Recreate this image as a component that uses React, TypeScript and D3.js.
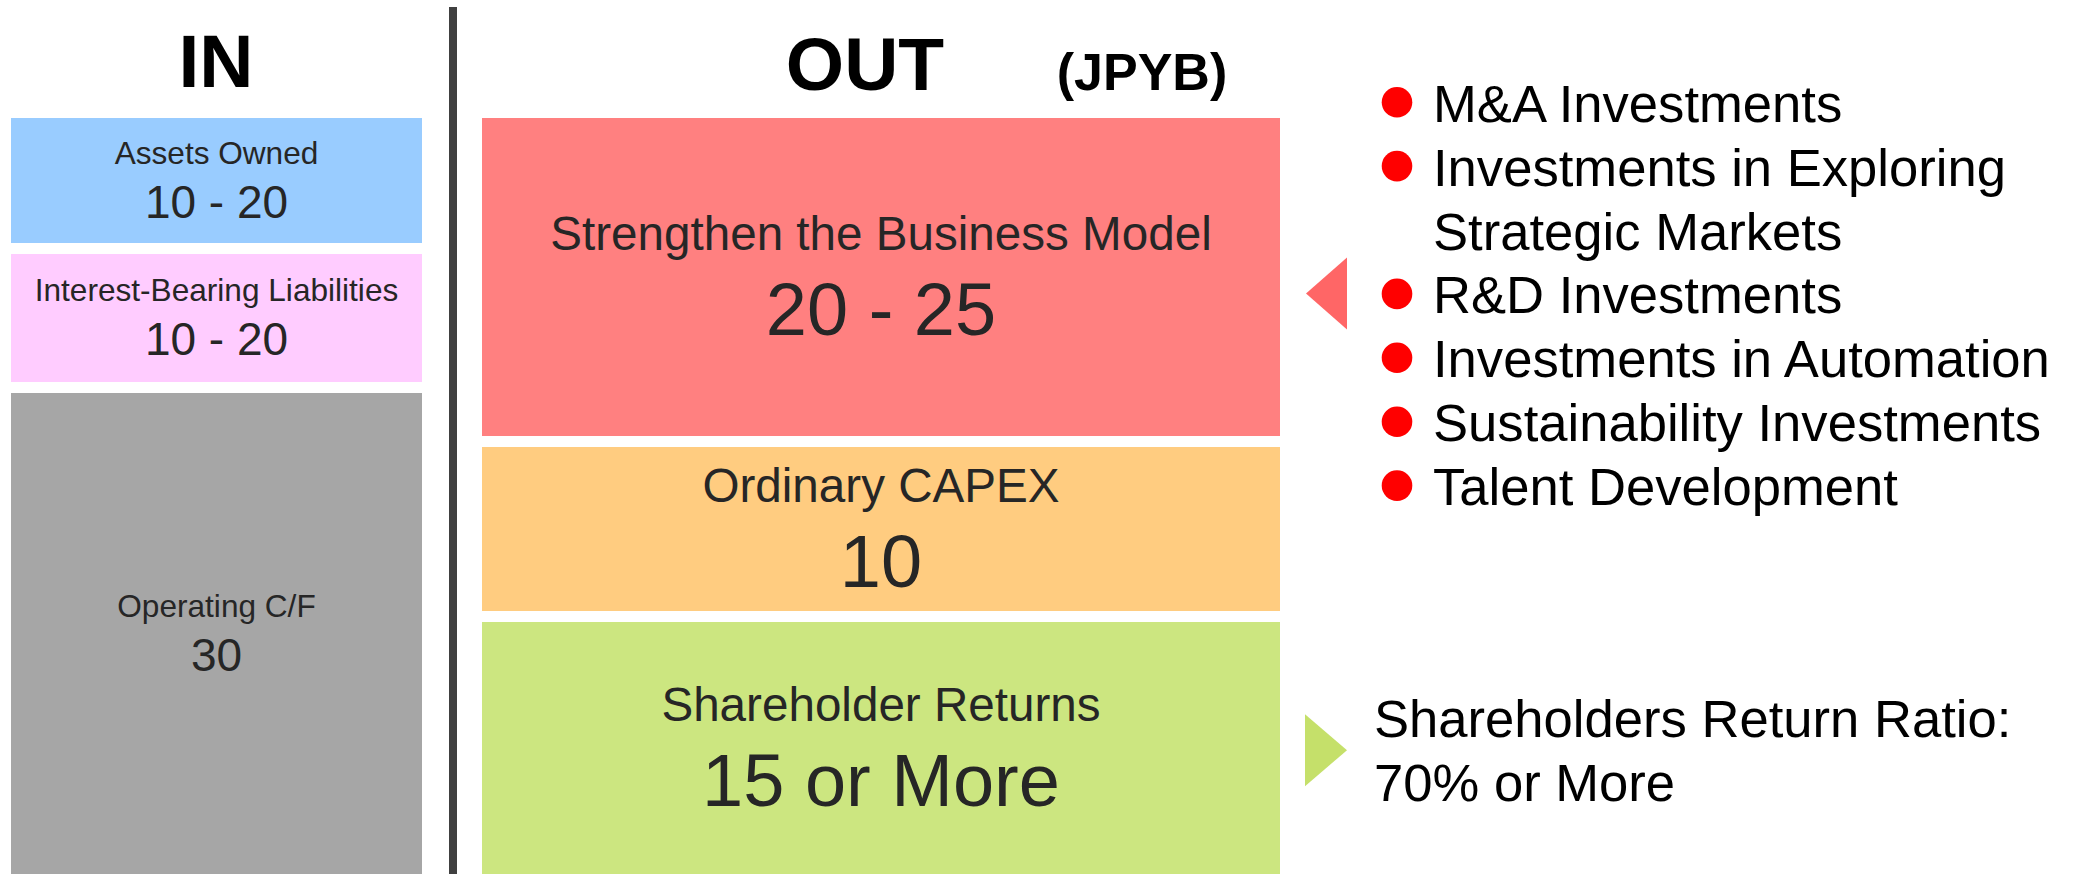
import React from "react";
import * as d3 from "d3";

// chart content
const inLabels = ["Assets Owned", "Interest-Bearing Liabilities", "Operating C/F"];
const inValues = ["10 - 20", "10 - 20", "30"];
const inWeights = [125, 128, 481];
const inColors = ["#99CCFF", "#FFCCFF", "#A6A6A6"];

const outLabels = ["Strengthen the Business Model", "Ordinary CAPEX", "Shareholder Returns"];
const outValues = ["20 - 25", "10", "15 or More"];
const outWeights = [318, 164, 252];
const outColors = ["#FF8080", "#FFCC80", "#CCE680"];

const investmentItems = [
  ["M&A Investments"],
  ["Investments in Exploring", "Strategic Markets"],
  ["R&D Investments"],
  ["Investments in Automation"],
  ["Sustainability Investments"],
  ["Talent Development"],
];
const returnNote = ["Shareholders Return Ratio:", "70% or More"];

const W = 2085;
const H = 874;
const FONT = "'Liberation Sans', Arial, Helvetica, sans-serif";
const GAP = 11;
const TOP = 118;

function stack(weights: number[]) {
  const y = d3
    .scaleLinear()
    .domain([0, d3.sum(weights)])
    .range([TOP, H - GAP * (weights.length - 1)]);
  const ends = Array.from(d3.cumsum(weights));
  return weights.map((w, i) => {
    const start = i === 0 ? 0 : ends[i - 1];
    const y0 = y(start) + GAP * i;
    const y1 = y(ends[i]) + GAP * i;
    return { y0, y1, mid: (y0 + y1) / 2 };
  });
}

export default function App() {
  const inX = d3.scaleLinear().domain([0, 1]).range([11, 422]);
  const outX = d3.scaleLinear().domain([0, 1]).range([482, 1280]);
  const inRows = stack(inWeights);
  const outRows = stack(outWeights);

  // bullet list lines
  const lines: { text: string; bullet: boolean }[] = [];
  investmentItems.forEach((item) =>
    item.forEach((t, j) => lines.push({ text: t, bullet: j === 0 }))
  );
  const lineY = d3.scaleLinear().domain([0, 1]).range([121.7, 185.6]);
  const noteY = d3.scaleLinear().domain([0, 1]).range([736.7, 800.7]);

  const listMid = (lineY(0) - 40 + lineY(lines.length - 1)) / 2;
  const noteMid = (noteY(0) - 37 + noteY(1)) / 2;

  const redTri = d3.line()([
    [1306, listMid],
    [1347, listMid - 36],
    [1347, listMid + 36],
  ]);
  const greenTri = d3.line()([
    [1305, noteMid - 36],
    [1347, noteMid],
    [1305, noteMid + 36],
  ]);

  return (
    <svg
      width={W}
      height={H}
      style={{ position: "absolute", left: 0, top: 0, background: "#fff" }}
      fontFamily={FONT}
    >
      {/* headers */}
      <text x={216} y={87} fontSize={75} fontWeight="bold" textAnchor="middle" fill="#000">
        IN
      </text>
      <text x={865} y={90} fontSize={75} fontWeight="bold" textAnchor="middle" fill="#000">
        OUT
      </text>
      <text x={1142} y={90} fontSize={52} fontWeight="bold" textAnchor="middle" fill="#000">
        (JPYB)
      </text>

      {/* divider */}
      <line x1={453} x2={453} y1={7} y2={H} stroke="#404040" strokeWidth={8} />

      {/* IN column */}
      {inRows.map((r, i) => (
        <g key={"in" + i}>
          <rect x={inX(0)} y={r.y0} width={inX(1) - inX(0)} height={r.y1 - r.y0} fill={inColors[i]} />
          <text x={(inX(0) + inX(1)) / 2} y={r.mid - 17} fontSize={31.6} textAnchor="middle" fill="#262626">
            {inLabels[i]}
          </text>
          <text x={(inX(0) + inX(1)) / 2} y={r.mid + 37} fontSize={46} textAnchor="middle" fill="#262626">
            {inValues[i]}
          </text>
        </g>
      ))}

      {/* OUT column */}
      {outRows.map((r, i) => (
        <g key={"out" + i}>
          <rect x={outX(0)} y={r.y0} width={outX(1) - outX(0)} height={r.y1 - r.y0} fill={outColors[i]} />
          <text x={(outX(0) + outX(1)) / 2} y={r.mid - 27} fontSize={47.6} textAnchor="middle" fill="#262626">
            {outLabels[i]}
          </text>
          <text x={(outX(0) + outX(1)) / 2} y={r.mid + 58} fontSize={74} textAnchor="middle" fill="#262626">
            {outValues[i]}
          </text>
        </g>
      ))}

      {/* arrows */}
      <path d={redTri || ""} fill="#FF6666" />
      <path d={greenTri || ""} fill="#C5E06A" />

      {/* investment list */}
      {lines.map((l, i) => (
        <g key={"l" + i}>
          {l.bullet && <circle cx={1397} cy={lineY(i) - 19.5} r={15.3} fill="#FF0000" />}
          <text x={1433} y={lineY(i)} fontSize={52.6} fill="#000">
            {l.text}
          </text>
        </g>
      ))}

      {/* shareholder return note */}
      {returnNote.map((t, i) => (
        <text key={"n" + i} x={1374} y={noteY(i)} fontSize={52.6} fill="#000">
          {t}
        </text>
      ))}
    </svg>
  );
}
